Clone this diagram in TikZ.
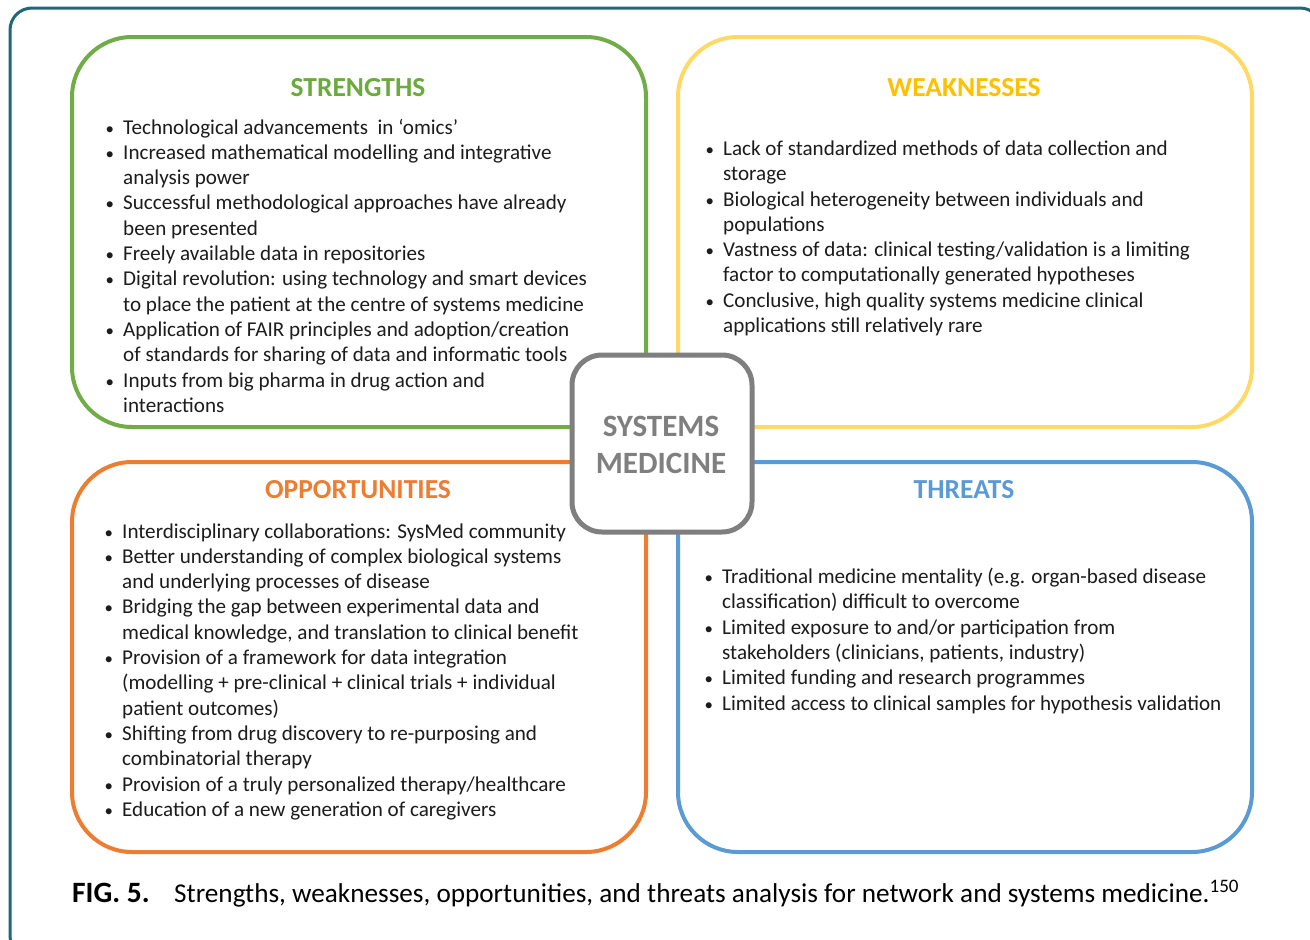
\documentclass[tikz,border=0pt]{standalone}
\usepackage{fontspec}
\setmainfont{Carlito}
\definecolor{sgreen}{HTML}{70AD47}
\definecolor{sgreent}{HTML}{6AAA3E}
\definecolor{wyellow}{HTML}{FFD966}
\definecolor{wyellowt}{HTML}{FFC000}
\definecolor{oorange}{HTML}{ED7D31}
\definecolor{tblue}{HTML}{5B9BD5}
\definecolor{cgray}{HTML}{7F7F7F}
\definecolor{frameteal}{HTML}{1E6878}
\definecolor{txt}{HTML}{1C1C1C}
\newcommand{\bul}{\makebox[16pt][l]{\hspace{-1.5pt}\scalebox{0.8}{•}}}
\newcommand{\ind}{\hspace*{16pt}}
\begin{document}
\begin{tikzpicture}[x=1pt,y=-1pt,
  quad/.style={draw, line width=4pt, rounded corners=60pt, minimum width=574pt, minimum height=390pt, inner sep=0pt},
  ttl/.style={anchor=base, inner sep=0pt, font={\fontsize{27.5}{30}\selectfont\bfseries}},
  lst/.style={anchor=base west, inner sep=0pt, align=left, text=txt, font={\fontsize{21.1}{25.3}\selectfont}}]
\useasboundingbox (0,0) rectangle (1310,940);
\clip (0,0) rectangle (1310,940);
\fill[white] (0,0) rectangle (1310,940);
\draw[frameteal, line width=3pt, rounded corners=22pt] (10,8) rectangle (1322,958);

\node[quad, draw=sgreen] (S) at (359,232) {};
\node[quad, draw=wyellow] (W) at (965,232) {};
\node[quad, draw=oorange] (O) at (359,657) {};
\node[quad, draw=tblue] (T) at (965,657) {};
\node[draw=cgray, fill=white, line width=5pt, rounded corners=30pt, minimum width=180pt, minimum height=177pt, inner sep=0pt] (C) at (662,443.5) {};
\node[anchor=base, inner sep=0pt, text=cgray, font={\fontsize{31}{37}\selectfont\bfseries}] (C1) at (661,436) {SYSTEMS};
\node[anchor=base, inner sep=0pt, text=cgray, font={\fontsize{31}{37}\selectfont\bfseries}] (C2) at (661,473) {MEDICINE};

\node[ttl, text=sgreent] (St) at (358,96) {STRENGTHS};
\node[ttl, text=wyellowt] (Wt) at (964,96) {WEAKNESSES};
\node[ttl, text=oorange] (Ot) at (358,498) {OPPORTUNITIES};
\node[ttl, text=tblue] (Tt) at (964,498) {THREATS};

% anchor base west = baseline of the last line
\node[lst] (Sl) at (107,412.3) {\bul Technological advancements\ \ in ‘omics’\\
\bul Increased mathematical modelling and integrative\\
\ind analysis power\\
\bul Successful methodological approaches have already\\
\ind been presented\\
\bul Freely available data in repositories\\
\bul Digital revolution: using technology and smart devices\\
\ind to place the patient at the centre of systems medicine\\
\bul Application of FAIR principles and adoption/creation\\
\ind of standards for sharing of data and informatic tools\\
\bul Inputs from big pharma in drug action and\\
\ind interactions};

\node[lst] (Wl) at (707,332.5) {\bul Lack of standardized methods of data collection and\\
\ind storage\\
\bul Biological heterogeneity between individuals and\\
\ind populations\\
\bul Vastness of data: clinical testing/validation is a limiting\\
\ind factor to computationally generated hypotheses\\
\bul Conclusive, high quality systems medicine clinical\\
\ind applications still relatively rare};

\node[lst] (Ol) at (106,816.3) {\bul Interdisciplinary collaborations: SysMed community\\
\bul Better understanding of complex biological systems\\
\ind and underlying processes of disease\\
\bul Bridging the gap between experimental data and\\
\ind medical knowledge, and translation to clinical benefit\\
\bul Provision of a framework for data integration\\
\ind (modelling + pre-clinical + clinical trials + individual\\
\ind patient outcomes)\\
\bul Shifting from drug discovery to re-purposing and\\
\ind combinatorial therapy\\
\bul Provision of a truly personalized therapy/healthcare\\
\bul Education of a new generation of caregivers};

\node[lst] (Tl) at (706,710) {\bul Traditional medicine mentality (e.g. organ-based disease\\
\ind classification) difficult to overcome\\
\bul Limited exposure to and/or participation from\\
\ind stakeholders (clinicians, patients, industry)\\
\bul Limited funding and research programmes\\
\bul Limited access to clinical samples for hypothesis validation};

\node[anchor=base west, inner sep=0pt, text=black, font={\fontsize{27.2}{30}\selectfont}] (cap) at (72,902) {\makebox[102pt][l]{\fontsize{29.5}{30}\selectfont\bfseries FIG. 5.}Strengths, weaknesses, opportunities, and threats analysis for network and systems medicine.\textsuperscript{150}};
\end{tikzpicture}
\end{document}
